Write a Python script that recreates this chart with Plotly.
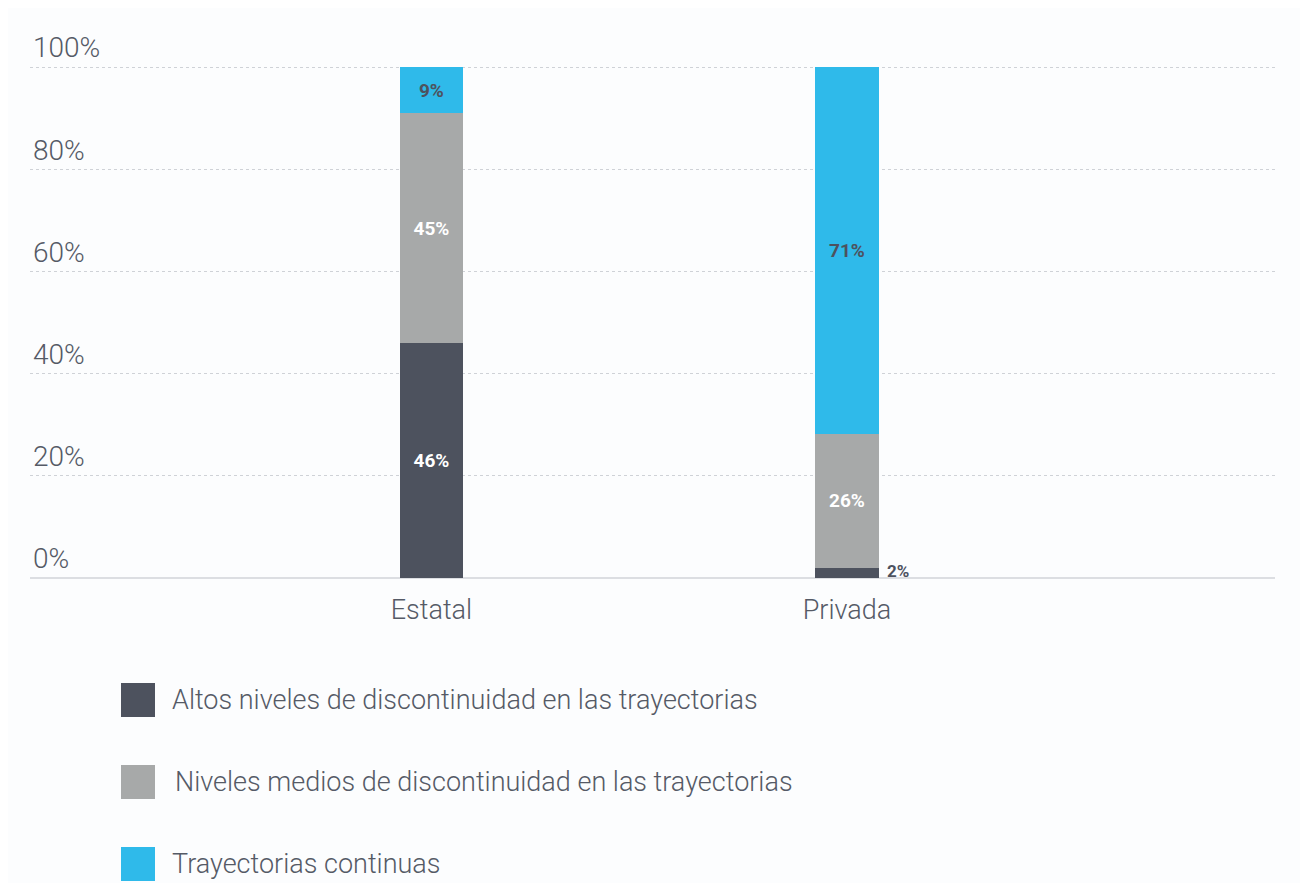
import plotly.graph_objects as go

# ---------- data ----------
categorias = ["Estatal", "Privada"]
series = [
    "Altos niveles de discontinuidad en las trayectorias",
    "Niveles medios de discontinuidad en las trayectorias",
    "Trayectorias continuas",
]
altos = [46, 2]
medios = [45, 26]
continuas = [9, 71]
y_ticks = [0, 20, 40, 60, 80, 100]

# ---------- style ----------
OFF = 8                      # page body margin in the browser
W, H = 1308 - 2 * OFF, 891 - 2 * OFF
Y_TOP = 111                  # headroom so the "100%" label fits inside
L, R = 30 - OFF, 25
B = 305
T = (578 - round(Y_TOP * 5.11)) - OFF
FONT = "Roboto"
TXT = "#555a66"
colores = ["#4d525e", "#a7a9a9", "#2fbaea"]
text_col = ["#ffffff", "#ffffff", "#4d525e"]
BG = "#fcfdfe"


def px_x(px):
    # page pixel -> paper x
    return (px - OFF - L) / (W - L - R)


def px_y(py):
    # page pixel -> paper y
    return (H - B - (py - OFF)) / (H - T - B)


fig = go.Figure()
for name, vals, c, tc in zip(series, [altos, medios, continuas], colores, text_col):
    # the tiny 2% segment gets its label outside (annotation below)
    pos = ["inside" if v >= 5 else "none" for v in vals]
    fig.add_trace(go.Bar(
        x=categorias, y=vals, name=name,
        marker=dict(color=c, line=dict(width=0)),
        width=0.152,
        text=[f"{v}%" for v in vals], texttemplate="%{text}",
        textposition=pos, insidetextanchor="middle", textangle=0,
        constraintext="none",
        textfont=dict(family=FONT, size=19, color=tc, weight="bold"),
        showlegend=False,
        hovertemplate="%{x}: %{text}<extra>" + name + "</extra>",
    ))

# label for small segment, next to the bar
tot_priv = altos[1] + medios[1] + continuas[1]
fig.add_annotation(
    x=categorias[1], y=altos[1] / tot_priv * 100 / 2 + 0.3,
    text=f"{altos[1]}%", showarrow=False, xanchor="left", yanchor="middle",
    xshift=38, font=dict(family=FONT, size=17, color=colores[0], weight="bold"),
)

# manual legend (large square swatches)
leg_y = [700, 782, 864]
leg_tx = [170, 173, 170]
for name, c, py, tx in zip(series, colores, leg_y, leg_tx):
    fig.add_shape(type="rect", xref="paper", yref="paper",
                  x0=px_x(121), x1=px_x(155), y0=px_y(py + 17), y1=px_y(py - 17),
                  fillcolor=c, line=dict(width=0))
    fig.add_annotation(xref="paper", yref="paper", x=px_x(tx), y=px_y(py),
                       text=name, showarrow=False, xanchor="left", yanchor="middle",
                       font=dict(family=FONT, size=27, color=TXT, weight=300))

fig.update_layout(
    width=W, height=H,
    barmode="stack", barnorm="percent",
    paper_bgcolor=BG, plot_bgcolor=BG,
    margin=dict(l=L, r=R, t=T, b=B),
    font=dict(family=FONT, color=TXT),
    xaxis=dict(
        type="category", range=[-0.966, 2.03],
        showgrid=False, zeroline=False, showline=False,
        ticks="outside", ticklen=8, tickcolor="rgba(0,0,0,0)",
        tickfont=dict(family=FONT, size=27, color=TXT, weight=300),
        fixedrange=True,
    ),
    yaxis=dict(
        range=[0, Y_TOP], tickvals=y_ticks, ticktext=[f"{v}%" for v in y_ticks],
        ticklabelposition="inside top",
        tickfont=dict(family=FONT, size=28, color=TXT, weight=300),
        showgrid=True, gridcolor="#cfd2d7", gridwidth=1, griddash="dot",
        zeroline=True, zerolinecolor="#dcdee2", zerolinewidth=2,
        showline=False, fixedrange=True,
    ),
)

fig.write_html("out.html")
